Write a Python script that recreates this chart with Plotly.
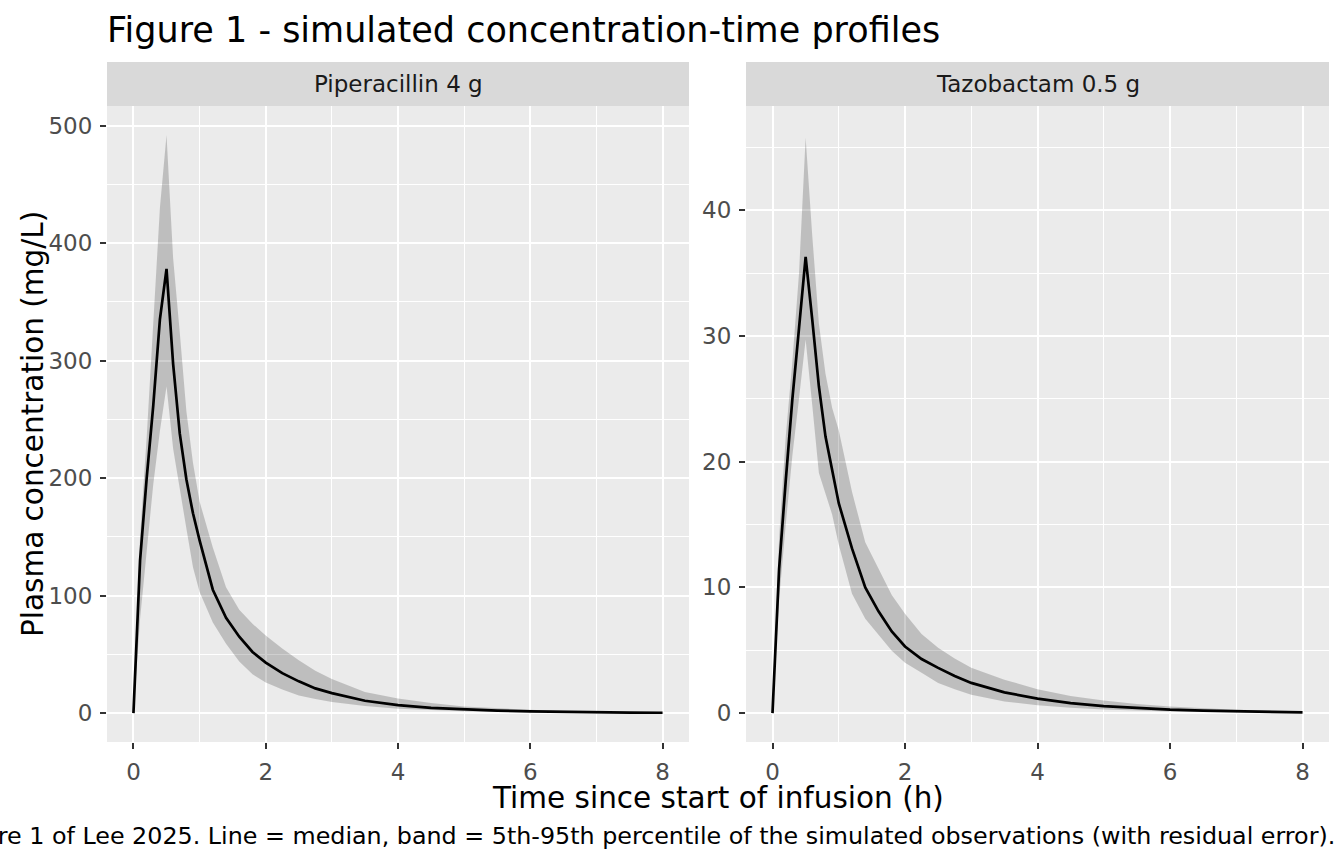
import plotly.graph_objects as go

# ---- data ----
TIME_H = [0, 0.1, 0.2, 0.3, 0.4, 0.5, 0.6, 0.7, 0.8, 0.9, 1.0, 1.2, 1.4, 1.6, 1.8,
          2.0, 2.25, 2.5, 2.75, 3.0, 3.5, 4.0, 4.5, 5.0, 5.5, 6.0, 6.5, 7.0, 7.5, 8.0]

PIP_MEDIAN = [0, 130, 200, 262, 335, 378, 297, 238, 199, 170, 147, 105, 81, 65, 52,
              43, 34, 27, 21, 17, 10.5, 6.8, 4.5, 3.1, 2.1, 1.4, 0.9, 0.6, 0.4, 0.3]
PIP_P05 = [0, 80, 140, 195, 240, 278, 225, 190, 157, 124, 103, 77, 59, 44, 33,
           26, 20, 15, 12, 9.5, 6, 3.8, 2.5, 1.6, 1.0, 0.6, 0.4, 0.25, 0.15, 0.1]
PIP_P95 = [0, 150, 235, 333, 430, 492, 387, 324, 257, 213, 180, 141, 107, 88, 76,
           66, 55, 45, 36, 29, 18, 12.4, 8.5, 5.6, 4.0, 2.8, 1.8, 1.2, 0.8, 0.5]

TAZ_MEDIAN = [0, 11.5, 18.5, 25, 30.6, 36.3, 31.3, 26, 22, 19.2, 16.7, 13.1, 10, 8.1, 6.5,
              5.3, 4.3, 3.6, 2.95, 2.4, 1.65, 1.15, 0.8, 0.55, 0.38, 0.27, 0.19, 0.13, 0.09, 0.06]
TAZ_P05 = [0, 9, 15, 20.5, 25, 29.7, 24.5, 19.1, 17.5, 15.8, 13.4, 9.5, 7.5, 6.2, 4.95,
           4.0, 3.2, 2.4, 1.9, 1.46, 0.93, 0.62, 0.42, 0.28, 0.19, 0.13, 0.09, 0.06, 0.04, 0.03]
TAZ_P95 = [0, 14, 22, 28, 35, 45.8, 38, 31, 27, 24.3, 22.5, 17.6, 13.6, 11.5, 9.4,
           7.9, 6.3, 5.2, 4.35, 3.6, 2.66, 1.9, 1.35, 1.0, 0.72, 0.52, 0.38, 0.27, 0.2, 0.14]

PANEL_TITLES = ["Piperacillin 4 g", "Tazobactam 0.5 g"]
X_TICKS = [0, 2, 4, 6, 8]
PIP_Y_TICKS = [0, 100, 200, 300, 400, 500]
TAZ_Y_TICKS = [0, 10, 20, 30, 40]

TITLE = "Figure 1 - simulated concentration-time profiles"
X_TITLE = "Time since start of infusion (h)"
Y_TITLE = "Plasma concentration (mg/L)"
CAPTION = ("Figure 1 of Lee 2025. Line = median, band = 5th-95th percentile of the "
           "simulated observations (with residual error).")

# ---- figure ----
W, H = 1344, 864
FONT = "DejaVu Sans"
BAND = "rgba(0,0,0,0.19)"

fig = go.Figure()

panels = [(PIP_MEDIAN, PIP_P05, PIP_P95, "x", "y"),
          (TAZ_MEDIAN, TAZ_P05, TAZ_P95, "x2", "y2")]
for med, lo, hi, xa, ya in panels:
    fig.add_trace(go.Scatter(
        x=TIME_H + TIME_H[::-1], y=hi + lo[::-1], fill="toself",
        fillcolor=BAND, line=dict(width=0), mode="lines",
        hoverinfo="skip", showlegend=False, xaxis=xa, yaxis=ya))
    fig.add_trace(go.Scatter(
        x=TIME_H, y=med, mode="lines", line=dict(color="black", width=2.7),
        showlegend=False, xaxis=xa, yaxis=ya))

def px_x(p):
    return p / W

def px_y(p):
    return 1 - p / H

panel_x = [(107, 689), (746, 1329)]
panel_top, panel_bot = 106, 742
strip_top = 62

tickfont = dict(family=FONT, size=23, color="#4D4D4D")
common_axis = dict(
    showgrid=True, gridcolor="white", gridwidth=2.2, zeroline=False,
    ticks="outside", ticklen=6, tickwidth=2, tickcolor="#333333",
    tickfont=tickfont, showline=False, ticklabelstandoff=3,
)

def xaxis(dom, anchor):
    return dict(common_axis, domain=[px_x(dom[0]), px_x(dom[1])], anchor=anchor,
                range=[-0.4, 8.4], tickvals=X_TICKS,
                minor=dict(tickvals=[1, 3, 5, 7], showgrid=True,
                           gridcolor="white", gridwidth=1.1))

def yaxis(rng, ticks, minor, anchor):
    return dict(common_axis, domain=[px_y(panel_bot), px_y(panel_top)], anchor=anchor,
                range=rng, tickvals=ticks,
                minor=dict(tickvals=minor, showgrid=True,
                           gridcolor="white", gridwidth=1.1))

fig.update_layout(
    width=W, height=H,
    margin=dict(l=0, r=0, t=0, b=0),
    paper_bgcolor="white", plot_bgcolor="#EBEBEB",
    font=dict(family=FONT, color="black"),
    xaxis=xaxis(panel_x[0], "y"),
    xaxis2=xaxis(panel_x[1], "y2"),
    yaxis=yaxis([-24.6, 516.6], PIP_Y_TICKS, [50, 150, 250, 350, 450], "x"),
    yaxis2=yaxis([-2.3, 48.3], TAZ_Y_TICKS, [5, 15, 25, 35, 45], "x2"),
    showlegend=False,
)

shapes = []
annotations = []
for (x0, x1), label in zip(panel_x, PANEL_TITLES):
    shapes.append(dict(type="rect", xref="paper", yref="paper",
                       x0=px_x(x0), x1=px_x(x1), y0=px_y(panel_top), y1=px_y(strip_top),
                       fillcolor="#D9D9D9", line=dict(width=0), layer="below"))
    annotations.append(dict(text=label, xref="paper", yref="paper",
                            x=px_x((x0 + x1) / 2), y=px_y((panel_top + strip_top) / 2),
                            xanchor="center", yanchor="middle", showarrow=False,
                            font=dict(family=FONT, size=23, color="#1A1A1A")))

annotations.append(dict(text=TITLE, xref="paper", yref="paper",
                        x=px_x(105), y=px_y(30), xanchor="left", yanchor="middle",
                        showarrow=False, font=dict(family=FONT, size=35, color="black")))
annotations.append(dict(text=X_TITLE, xref="paper", yref="paper",
                        x=px_x(718), y=px_y(798), xanchor="center", yanchor="middle",
                        showarrow=False, font=dict(family=FONT, size=29.5, color="black")))
annotations.append(dict(text=Y_TITLE, xref="paper", yref="paper",
                        x=px_x(33), y=px_y(424), xanchor="center", yanchor="middle",
                        textangle=-90, showarrow=False,
                        font=dict(family=FONT, size=29.5, color="black")))
annotations.append(dict(text=CAPTION, xref="paper", yref="paper",
                        x=px_x(1337), y=px_y(836), xanchor="right", yanchor="middle",
                        showarrow=False, font=dict(family=FONT, size=23.8, color="black")))

fig.update_layout(shapes=shapes, annotations=annotations)

fig.write_html("out.html",
               config={"displayModeBar": False},
               post_script="document.body.style.margin='0';document.body.style.padding='0';")
